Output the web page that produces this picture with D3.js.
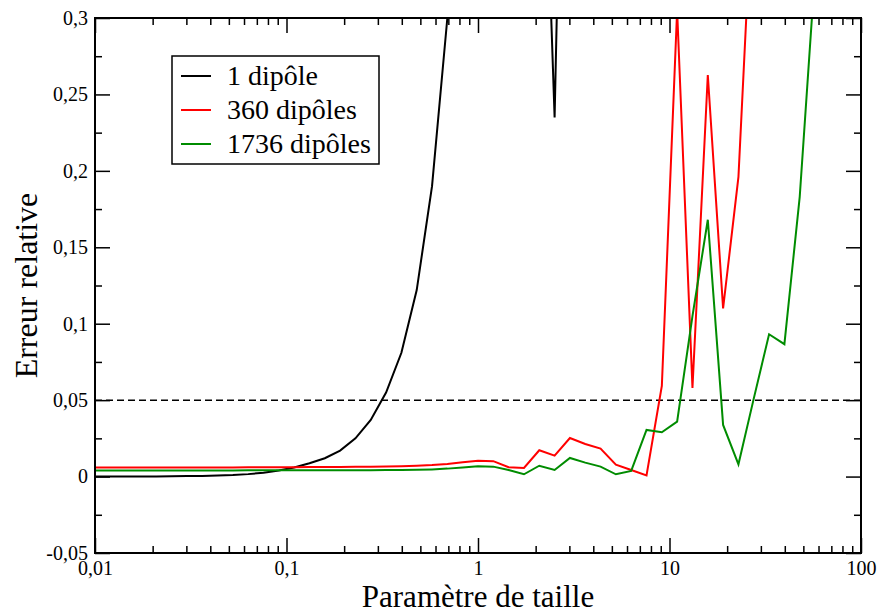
<!DOCTYPE html>
<html><head><meta charset="utf-8">
<script src="https://cdn.jsdelivr.net/npm/d3@7/dist/d3.min.js"></script>
<style>
html,body{margin:0;padding:0;background:#fff;}
svg{display:block;}
text{font-family:"Liberation Serif","Times New Roman",serif;fill:#000;}
</style></head>
<body>
<svg id="chart" width="882" height="614"></svg>
<script>
// ---- data ----
const sizeParam = [0.01,0.01202,0.01445,0.01738,0.02089,0.02512,0.0302,0.03631,0.04365,0.05248,
  0.0631,0.07586,0.0912,0.1096,0.1318,0.1585,0.1905,0.2291,0.2754,0.3311,
  0.3981,0.4786,0.5754,0.6918,0.8318,1,1.202,1.445,1.738,2.089,
  2.512,3.02,3.631,4.365,5.248,6.31,7.586,9.12,10.96,13.18,
  15.85,19.05,22.91,27.54,33.11,39.81,47.86,57.54,69.18,83.18,100];

const err1 = [0.0000,0.0000,0.0000,0.0001,0.0001,0.0002,0.0003,0.0004,0.0007,0.0010,
  0.0016,0.0025,0.0040,0.0059,0.0087,0.012,0.017,0.025,0.037,0.055,
  0.081,0.122,0.19,0.30,0.45,0.62,0.8,0.9,0.8,0.53,
  0.235,0.70,0.9,1.1];

const err360 = [0.0060,0.0060,0.0060,0.0060,0.0060,0.0060,0.0060,0.0060,0.0060,0.0060,
  0.0061,0.0061,0.0061,0.0061,0.0062,0.0062,0.0063,0.0064,0.0065,0.0066,
  0.0068,0.0071,0.0075,0.0082,0.0093,0.0104,0.0101,0.0061,0.0056,0.0172,
  0.0137,0.0252,0.0213,0.0183,0.0078,0.0043,0.0008,0.0593,0.305,0.058,
  0.2627,0.110,0.196,0.40,0.55,0.7,0.85,1.0,1.1,1.2,1.3];

const err1736 = [0.0040,0.0040,0.0040,0.0040,0.0040,0.0040,0.0040,0.0040,0.0040,0.0040,
  0.0041,0.0041,0.0041,0.0041,0.0041,0.0041,0.0042,0.0042,0.0042,0.0043,
  0.0043,0.0044,0.0047,0.0052,0.0060,0.0067,0.0065,0.0043,0.0015,0.0071,
  0.0043,0.0122,0.0091,0.0065,0.0015,0.0037,0.0305,0.029,0.0359,0.105,
  0.168,0.0338,0.0080,0.051,0.0931,0.0866,0.183,0.33,0.5,0.7,0.9];

const seriesNames = ["1 dipôle","360 dipôles","1736 dipôles"];
const seriesColors = ["#000000","#ff0000","#008c00"];
const seriesValues = [err1, err360, err1736];

const xMajorTicks = [0.01,0.1,1,10,100];
const xTickLabels = ["0,01","0,1","1","10","100"];
const yMajorTicks = [-0.05,0,0.05,0.1,0.15,0.2,0.25,0.3];
const yTickLabels = ["-0,05","0","0,05","0,1","0,15","0,2","0,25","0,3"];
const yMinorTicks = [-0.025,0.025,0.075,0.125,0.175,0.225,0.275];
const thresholdValue = 0.05;
const xTitle = "Paramètre de taille";
const yTitle = "Erreur relative";

// ---- layout ----
const mLeft = 95, mRight = 861, mTop = 18, mBottom = 553;
const svg = d3.select("#chart");
const x = d3.scaleLog().domain([0.01,100]).range([mLeft,mRight]);
const y = d3.scaleLinear().domain([-0.05,0.3]).range([mBottom,mTop]);

const xMinorTicks = [];
[0.01,0.1,1,10].forEach(d => { for (let m=2;m<=9;m++) xMinorTicks.push(+(d*m).toPrecision(3)); });

svg.append("defs").append("clipPath").attr("id","clip")
  .append("rect").attr("x",mLeft).attr("y",mTop).attr("width",mRight-mLeft).attr("height",mBottom-mTop);

// threshold dashed line
svg.append("line")
  .attr("x1",mLeft).attr("x2",mRight).attr("y1",y(thresholdValue)).attr("y2",y(thresholdValue))
  .attr("stroke","#000").attr("stroke-width",1.5).attr("stroke-dasharray","7,4");

// series
const line = d3.line().x(d => x(d[0])).y(d => y(d[1]));
const g = svg.append("g").attr("clip-path","url(#clip)");
seriesValues.forEach((vals,i) => {
  const pts = vals.map((v,j) => [sizeParam[j], v]);
  g.append("path").datum(pts).attr("d",line)
    .attr("fill","none").attr("stroke",seriesColors[i]).attr("stroke-width",2)
    .attr("stroke-linejoin","miter");
});

// axes (ticks inward on all sides)
function styleAxis(sel){
  sel.attr("font-family",null);
  sel.select(".domain").remove();
  sel.selectAll(".tick line").attr("stroke","#000").attr("stroke-width",1.5);
  sel.selectAll("text").style("font-family",'"Liberation Serif","Times New Roman",serif').style("font-size","20px").attr("fill","#000");
}
const fx = d => xTickLabels[xMajorTicks.indexOf(d)];
const fy = d => yTickLabels[yMajorTicks.findIndex(t => Math.abs(t-d)<1e-9)];

svg.append("g").attr("transform",`translate(0,${mBottom})`)
  .call(d3.axisBottom(x).tickValues(xMajorTicks).tickSize(-15).tickPadding(8).tickFormat(fx)).call(styleAxis);
svg.append("g").attr("transform",`translate(0,${mBottom})`)
  .call(d3.axisBottom(x).tickValues(xMinorTicks).tickSize(-7).tickFormat("")).call(styleAxis);
svg.append("g").attr("transform",`translate(0,${mTop})`)
  .call(d3.axisTop(x).tickValues(xMajorTicks).tickSize(-15).tickFormat("")).call(styleAxis);
svg.append("g").attr("transform",`translate(0,${mTop})`)
  .call(d3.axisTop(x).tickValues(xMinorTicks).tickSize(-7).tickFormat("")).call(styleAxis);

svg.append("g").attr("transform",`translate(${mLeft},0)`)
  .call(d3.axisLeft(y).tickValues(yMajorTicks).tickSize(-15).tickPadding(7).tickFormat(fy)).call(styleAxis);
svg.append("g").attr("transform",`translate(${mLeft},0)`)
  .call(d3.axisLeft(y).tickValues(yMinorTicks).tickSize(-7).tickFormat("")).call(styleAxis);
svg.append("g").attr("transform",`translate(${mRight},0)`)
  .call(d3.axisRight(y).tickValues(yMajorTicks).tickSize(-15).tickFormat("")).call(styleAxis);
svg.append("g").attr("transform",`translate(${mRight},0)`)
  .call(d3.axisRight(y).tickValues(yMinorTicks).tickSize(-7).tickFormat("")).call(styleAxis);

// frame
svg.append("rect").attr("x",mLeft).attr("y",mTop).attr("width",mRight-mLeft).attr("height",mBottom-mTop)
  .attr("fill","none").attr("stroke","#000").attr("stroke-width",2);

// axis titles
svg.append("text").attr("x",(mLeft+mRight)/2).attr("y",606.5).attr("text-anchor","middle")
  .style("font-size","31px").text(xTitle);
svg.append("text").attr("transform",`translate(37,${(mTop+mBottom)/2}) rotate(-90)`).attr("text-anchor","middle")
  .style("font-size","32px").text(yTitle);

// legend
const lg = svg.append("g");
lg.append("rect").attr("x",172).attr("y",56).attr("width",207).attr("height",108)
  .attr("fill","#fff").attr("stroke","#000").attr("stroke-width",1.5);
seriesNames.forEach((name,i) => {
  const ly = 76 + i*34;
  lg.append("line").attr("x1",181).attr("x2",211).attr("y1",ly).attr("y2",ly)
    .attr("stroke",seriesColors[i]).attr("stroke-width",2);
  lg.append("text").attr("x",227).attr("y",ly+9).style("font-size","28px").text(name);
});
</script>
</body></html>
